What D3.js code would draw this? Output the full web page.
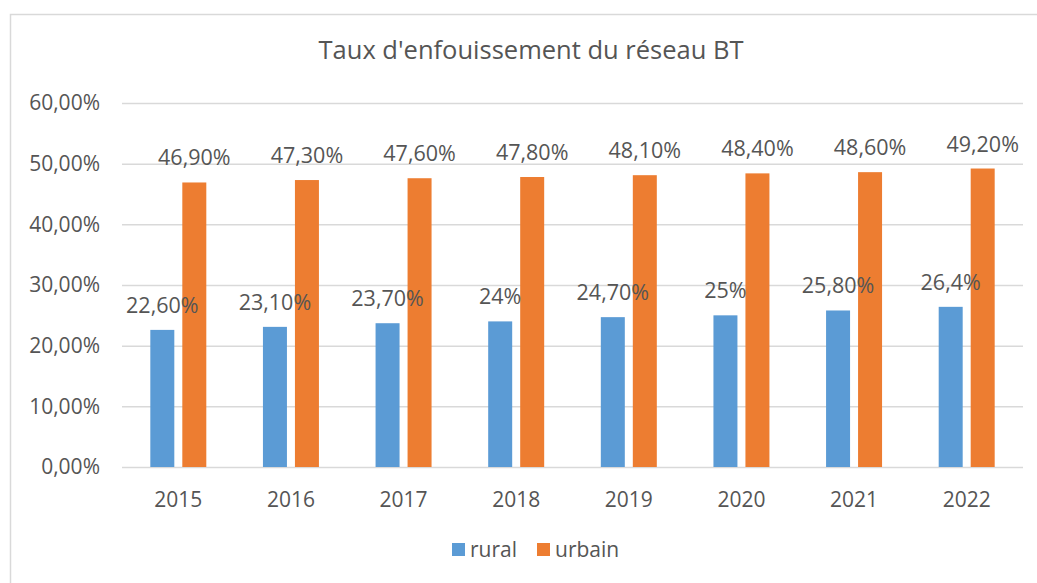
<!DOCTYPE html>
<html lang="fr">
<head>
<meta charset="utf-8">
<title>Taux d'enfouissement du réseau BT</title>
<style>
    body { margin: 0; background: #fff; }
    svg { display: block; font-family: "Open Sans", "Noto Sans", sans-serif; }
    .grid line { stroke: #d9d9d9; stroke-width: 1.5px; }
    .grid path { display: none; }
    .lbl { fill: #555; }
</style>
</head>
<body>
<script src="https://cdn.jsdelivr.net/npm/d3@7"></script>
<script>
    // data
    const years = ["2015", "2016", "2017", "2018", "2019", "2020", "2021", "2022"];
    const rural = [22.6, 23.1, 23.7, 24, 24.7, 25, 25.8, 26.4];
    const urbain = [46.9, 47.3, 47.6, 47.8, 48.1, 48.4, 48.6, 49.2];
    const ruralLabels = ["22,60%", "23,10%", "23,70%", "24%", "24,70%", "25%", "25,80%", "26,4%"];
    const urbainLabels = ["46,90%", "47,30%", "47,60%", "47,80%", "48,10%", "48,40%", "48,60%", "49,20%"];
    const yTicks = [0, 10, 20, 30, 40, 50, 60];
    const seriesNames = ["rural", "urbain"];

    const width = 1037, height = 583;
    const margin = {top: 103, right: 14, bottom: 116, left: 122};

    const svg = d3.select("body").append("svg")
        .attr("width", width)
        .attr("height", height);

    // chart frame
    svg.append("rect")
        .attr("x", 10.5).attr("y", 14.5)
        .attr("width", width + 10).attr("height", height + 10)
        .attr("fill", "none")
        .attr("stroke", "#d9d9d9")
        .attr("stroke-width", 1.5);

    let x0 = d3.scaleBand()
        .domain(years)
        .range([margin.left, width - margin.right]);

    let x1 = d3.scaleBand()
        .domain(seriesNames)
        .range([0, x0.bandwidth()])
        .paddingInner(0.25)
        .paddingOuter(0.885);

    let y = d3.scaleLinear()
        .domain([0, 60])
        .range([height - margin.bottom, margin.top]);

    let color = d3.scaleOrdinal()
        .domain(seriesNames)
        .range(["#5b9bd5", "#ed7d31"]);

    // gridlines
    svg.append("g")
        .attr("class", "grid")
        .attr("transform", "translate(" + margin.left + ",0)")
        .call(d3.axisLeft(y).tickValues(yTicks).tickSize(-(width - margin.left - margin.right)).tickFormat(""));

    // y tick labels
    svg.append("g").selectAll("text")
        .data(yTicks)
        .enter().append("text")
        .attr("class", "lbl")
        .attr("x", 100)
        .attr("y", d => y(d))
        .attr("dy", "0.35em")
        .attr("text-anchor", "end")
        .style("font-size", "21px")
        .text(d => d3.format(".2f")(d).replace(".", ",") + "%");

    // x labels
    svg.append("g").selectAll("text")
        .data(years)
        .enter().append("text")
        .attr("class", "lbl")
        .attr("x", d => x0(d) + x0.bandwidth() / 2)
        .attr("y", 507)
        .attr("text-anchor", "middle")
        .style("font-size", "21px")
        .text(d => d);

    const rows = years.map((yr, i) => ({
        year: yr,
        values: [
            {key: "rural", value: rural[i], label: ruralLabels[i]},
            {key: "urbain", value: urbain[i], label: urbainLabels[i]}
        ]
    }));

    let groups = svg.append("g").selectAll("g")
        .data(rows)
        .enter().append("g")
        .attr("transform", d => "translate(" + x0(d.year) + ",0)");

    groups.selectAll("rect")
        .data(d => d.values)
        .enter().append("rect")
        .attr("x", d => x1(d.key))
        .attr("y", d => y(d.value))
        .attr("width", x1.bandwidth())
        .attr("height", d => y(0) - y(d.value))
        .attr("fill", d => color(d.key));

    groups.selectAll("text")
        .data(d => d.values)
        .enter().append("text")
        .attr("class", "lbl")
        .attr("x", d => x1(d.key) + x1.bandwidth() / 2)
        .attr("y", d => y(d.value) - 17)
        .attr("text-anchor", "middle")
        .style("font-size", "21.5px")
        .text(d => d.label);

    // title
    svg.append("text")
        .attr("class", "lbl")
        .attr("x", 531)
        .attr("y", 59)
        .attr("text-anchor", "middle")
        .style("font-size", "25.5px")
        .text("Taux d'enfouissement du réseau BT");

    // legend
    const legendX = [452, 537];
    let legend = svg.append("g").selectAll("g")
        .data(seriesNames)
        .enter().append("g")
        .attr("transform", (d, i) => "translate(" + legendX[i] + ",543)");

    legend.append("rect")
        .attr("width", 13).attr("height", 13)
        .attr("fill", d => color(d));

    legend.append("text")
        .attr("class", "lbl")
        .attr("x", 18)
        .attr("y", 14)
        .style("font-size", "21px")
        .text(d => d);
</script>
</body>
</html>
